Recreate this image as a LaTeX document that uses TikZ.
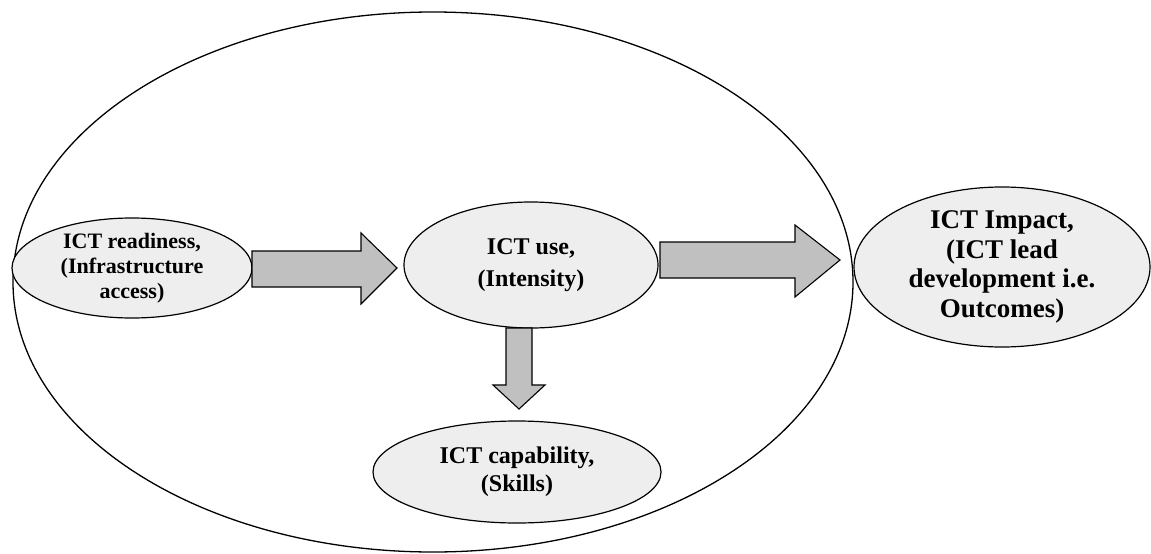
\documentclass[tikz,border=0pt]{standalone}
\usepackage{fontspec}
\setmainfont{Liberation Serif}
\usetikzlibrary{shapes.geometric}
\definecolor{nodefill}{HTML}{EEEEEE}
\definecolor{arrowfill}{HTML}{C0C0C0}
\tikzset{
  oval/.style={ellipse, draw=black, line width=1.2pt, fill=nodefill, inner sep=0pt,
    align=center},
  blockarrow/.style={draw=black, line width=1.1pt, fill=arrowfill, line join=miter},
  outer/.style={draw=black, line width=1.3pt}
}
\begin{document}
\begin{tikzpicture}[x=1pt,y=-1pt]
\useasboundingbox (0,0) rectangle (1151,554);
% large enclosing ellipse
\draw[outer] (433,282) ellipse [x radius=420, y radius=270];
% nodes
\node[oval, minimum width=240pt, minimum height=100pt, font=\bfseries\fontsize{22}{25}\selectfont] (rd) at (132,268)
  {ICT readiness,\\(Infrastructure\\access)};
\node[oval, minimum width=254pt, minimum height=126pt, font=\bfseries\fontsize{24}{32}\selectfont] (use) at (531,265)
  {ICT use,\\(Intensity)};
\node[oval, minimum width=296pt, minimum height=160pt, font=\bfseries\fontsize{27}{29.5}\selectfont] (imp) at (1002,267)
  {ICT Impact,\\(ICT lead\\development i.e.\\Outcomes)};
\node[oval, minimum width=288pt, minimum height=102pt, font=\bfseries\fontsize{24}{28}\selectfont] (cap) at (517,472)
  {ICT capability,\\(Skills)};
% block arrows
\draw[blockarrow] (252,251) -- (361,251) -- (361,233) -- (397,268) -- (361,304) -- (361,287) -- (252,287) -- cycle;
\draw[blockarrow] (660,242) -- (795,242) -- (795,225) -- (840,260) -- (795,297) -- (795,278) -- (660,278) -- cycle;
\draw[blockarrow] (506,328) -- (506,385) -- (493,385) -- (519,409) -- (545,385) -- (532,385) -- (532,328) -- cycle;
\end{tikzpicture}
\end{document}
